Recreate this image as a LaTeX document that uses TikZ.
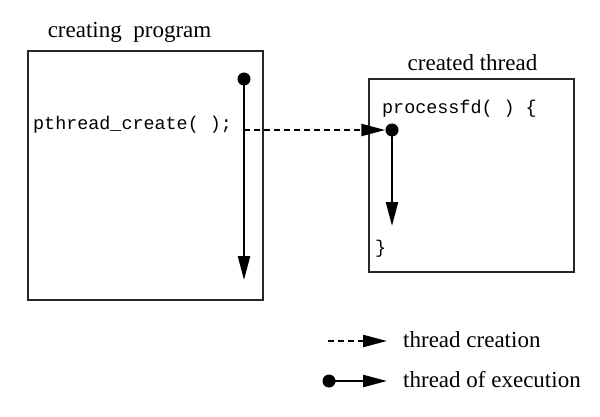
\documentclass[tikz,border=0pt]{standalone}
\usepackage{fontspec}
\setmainfont{Liberation Serif}
\newfontfamily\codefont{Liberation Mono}
\usetikzlibrary{arrows.meta}
\begin{document}
\begin{tikzpicture}[x=1pt,y=-1pt,
  box/.style={draw=black!85,line width=1.1pt,minimum width=#1,inner sep=0pt},
  title/.style={anchor=base,inner sep=0pt,font=\fontsize{23}{23}\selectfont},
  code/.style={anchor=base west,inner sep=0pt,font=\codefont\fontsize{18.4}{18.4}\selectfont},
  legtext/.style={anchor=base west,inner sep=0pt,font=\fontsize{23}{23}\selectfont},
  dotnode/.style={circle,fill=black,inner sep=0pt,minimum size=13pt},
  tip/.style={-{Triangle[length=24pt,width=12pt]}},
  exec/.style={tip,line width=2.4pt},
  create/.style={tip,line width=2.2pt,dash pattern=on 6pt off 4pt}]
\useasboundingbox (0,0) rectangle (600,417);
% boxes
\node[box=235pt,minimum height=249pt] (prog) at (145.5,175.5) {};
\node[box=205pt,minimum height=193pt] (thr) at (471.5,175.5) {};
% titles
\node[title] (t1) at (129.5,38) {creating\ \ program};
\node[title] (t2) at (472.5,71) {created thread};
% code
\node[code] (c1) at (33,130) {pthread\_create( );};
\node[code] (c2) at (382,114) {processfd( ) \{};
\node[code] (c3) at (375,253) {\}};
% execution in creating program
\node[dotnode] (d1) at (244,79) {};
\coordinate (e1) at (244,280);
\draw[exec] (d1.center) -- (e1);
% creation
\coordinate (s1) at (244,130);
\node[dotnode] (d2) at (392,130) {};
\draw[create] (s1) -- (d2.west);
\coordinate (e2) at (392,226);
\draw[exec] (d2.center) -- (e2);
% legend
\coordinate (l1a) at (328,341);
\coordinate (l1b) at (387,341);
\draw[create] (l1a) -- (l1b);
\node[legtext] (lt1) at (403,347) {thread creation};
\node[dotnode] (l2a) at (329,381) {};
\coordinate (l2b) at (387,381);
\draw[exec] (l2a.center) -- (l2b);
\node[legtext] (lt2) at (403,387) {thread of execution};
\end{tikzpicture}
\end{document}
